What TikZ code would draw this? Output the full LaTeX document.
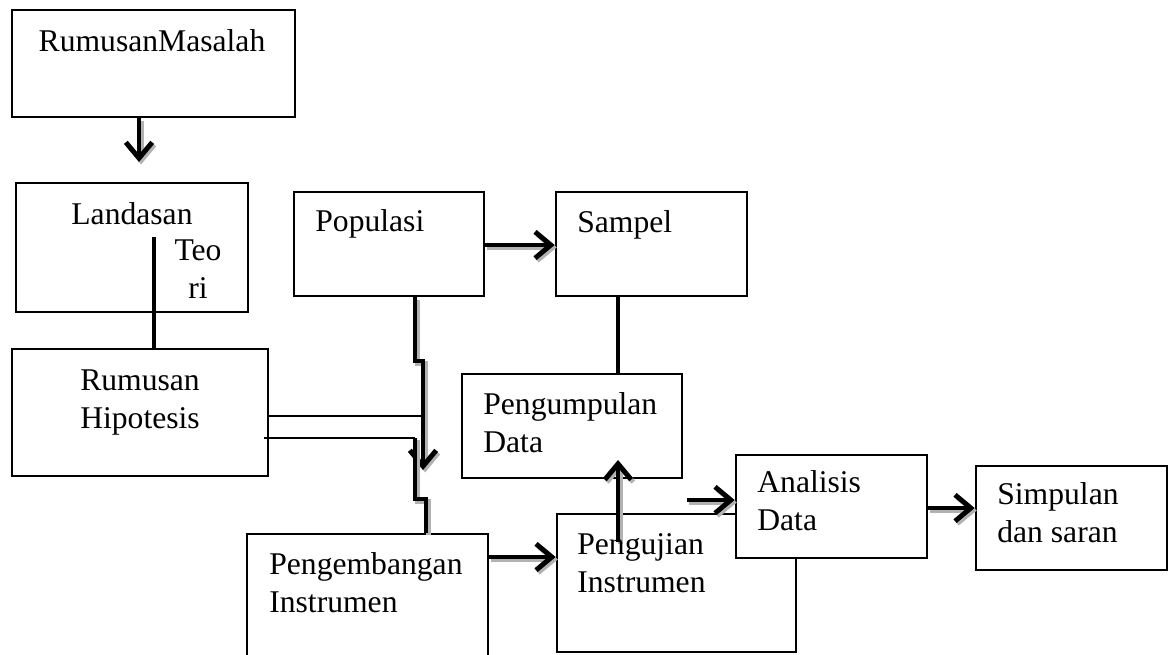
\documentclass[tikz,border=0pt]{standalone}
\usepackage{fontspec}
\setmainfont{Liberation Serif}
\usetikzlibrary{fit,arrows.meta}

\tikzset{
  kotak/.style={draw, line width=1.5pt, fill=white, inner sep=0pt},
  teks/.style={font=\fontsize{18}{21.5}\selectfont, inner sep=0pt, align=left, anchor=base west},
  tebal/.style={line width=2.8pt},
  tipis/.style={line width=1.1pt},
  bayang/.style={preaction={draw=gray!60, line width=2.8pt, transform canvas={xshift=1.2pt, yshift=-1.4pt}}},
  panah/.style={-{Straight Barb[length=9pt,width=15pt]}}
}

\begin{document}
\begin{tikzpicture}[%
        x = 0.02cm, y = -0.02cm
    ]
      \useasboundingbox (0,0) rectangle (1170,655);
      \clip (0,0) rectangle (1170,655);
      \node[kotak, fit={(12,10) (295,117)}] (masalah) {};
      \node[kotak, fit={(16,183) (248,312)}] (landasan) {};
      \node[kotak, fit={(12,349) (268,476)}] (hipotesis) {};
      \node[kotak, fit={(294,192) (484,296)}] (populasi) {};
      \node[kotak, fit={(556,192) (747,296)}] (sampel) {};
      \node[kotak, fit={(462,374) (682,478)}] (pengumpulan) {};
      \node[kotak, fit={(247,534) (488,700)}] (pengembangan) {};
      \node[kotak, fit={(557,514) (796,652)}] (pengujian) {};
      \node[kotak, fit={(736,455) (927,558)}] (analisis) {};
      \node[kotak, fit={(976,466) (1167,570)}] (simpulan) {};
      \coordinate (ujungMasalah) at (139,162);
      \coordinate (pangkalTeori) at (154,237);
      \coordinate (ujungPopulasi) at (423,470);
      \coordinate (pangkalGaris) at (264,438);
      \coordinate (pangkalUji) at (618,542);
      \coordinate (ujungUji) at (618,460);
      \coordinate (pangkalAnalisis) at (687,500);
      \draw[tebal, panah, bayang] (139,0 |- masalah.south) -- (ujungMasalah);
      \draw[tebal] (pangkalTeori) -- (154,0 |- hipotesis.north);
      \draw[tebal, panah, bayang] (populasi.east |- 0,245) -- (sampel.west |- 0,245);
      \draw[tebal, panah, bayang] (415,0 |- populasi.south) -- (415,361) -- (423,361) -- (ujungPopulasi);
      \draw[tipis] (hipotesis.east |- 0,416) -- (423,416);
      \draw[tipis] (pangkalGaris) -- (415,438);
      \draw[tebal, bayang] (415,438) -- (415,499) -- (426,499) -- (426,0 |- pengembangan.north);
      \draw[tebal] (618,0 |- sampel.south) -- (618,0 |- pengumpulan.north);
      \draw[tebal, panah, bayang] (pangkalUji) -- (ujungUji);
      \draw[tebal, panah, bayang] (pengembangan.east |- 0,557) -- (pengujian.west |- 0,557);
      \draw[tebal, panah, bayang] (pangkalAnalisis) -- (analisis.west |- pangkalAnalisis);
      \draw[tebal, panah, bayang] (analisis.east |- 0,508) -- (simpulan.west |- 0,508);
      \node[teks, anchor=base] (masalahTeks) at (152,52) {RumusanMasalah};
      \node[teks, anchor=base] (landasanTeks) at (132,225) {Landasan};
      \node[teks, anchor=base, align=center] (teoriTeks) at (198,298) {Teo\\ri};
      \node[teks, anchor=base, align=center] (hipotesisTeks) at (140,428) {Rumusan\\Hipotesis};
      \node[teks] (populasiTeks) at (315,232) {Populasi};
      \node[teks] (sampelTeks) at (577,233) {Sampel};
      \node[teks] (pengumpulanTeks) at (483,452) {Pengumpulan\\Data};
      \node[teks] (pengembanganTeks) at (269,612) {Pengembangan\\Instrumen};
      \node[teks] (pengujianTeks) at (577,592) {Pengujian\\Instrumen};
      \node[teks] (analisisTeks) at (757,530) {Analisis\\Data};
      \node[teks] (simpulanTeks) at (997,542) {Simpulan\\dan saran};
    \end{tikzpicture}
\end{document}
